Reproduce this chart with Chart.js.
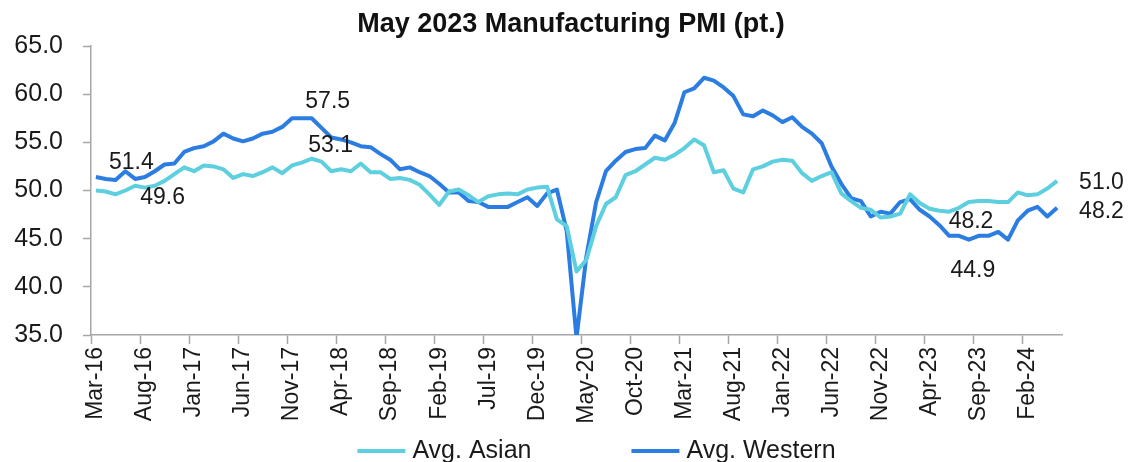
<!DOCTYPE html>
<html>
<head>
<meta charset="utf-8">
<script src="https://cdn.jsdelivr.net/npm/chart.js@4/dist/chart.umd.min.js"></script>
<style>
  html, body { margin: 0; padding: 0; background: #fff; overflow: hidden; }
  #wrap { width: 1132px; height: 462px; }
</style>
</head>
<body>
<div id="wrap"><canvas id="pmi"></canvas></div>
<script>
// months, Mar-16 .. May-24
const months = [
  'Mar-16','Apr-16','May-16','Jun-16','Jul-16','Aug-16','Sep-16','Oct-16','Nov-16','Dec-16',
  'Jan-17','Feb-17','Mar-17','Apr-17','May-17','Jun-17','Jul-17','Aug-17','Sep-17','Oct-17','Nov-17','Dec-17',
  'Jan-18','Feb-18','Mar-18','Apr-18','May-18','Jun-18','Jul-18','Aug-18','Sep-18','Oct-18','Nov-18','Dec-18',
  'Jan-19','Feb-19','Mar-19','Apr-19','May-19','Jun-19','Jul-19','Aug-19','Sep-19','Oct-19','Nov-19','Dec-19',
  'Jan-20','Feb-20','Mar-20','Apr-20','May-20','Jun-20','Jul-20','Aug-20','Sep-20','Oct-20','Nov-20','Dec-20',
  'Jan-21','Feb-21','Mar-21','Apr-21','May-21','Jun-21','Jul-21','Aug-21','Sep-21','Oct-21','Nov-21','Dec-21',
  'Jan-22','Feb-22','Mar-22','Apr-22','May-22','Jun-22','Jul-22','Aug-22','Sep-22','Oct-22','Nov-22','Dec-22',
  'Jan-23','Feb-23','Mar-23','Apr-23','May-23','Jun-23','Jul-23','Aug-23','Sep-23','Oct-23','Nov-23','Dec-23',
  'Jan-24','Feb-24','Mar-24','Apr-24','May-24'
];

const asian = [
  50.0, 49.9, 49.6, 50.0, 50.5, 50.3, 50.5, 51.0, 51.7, 52.4,
  52.0, 52.6, 52.5, 52.2, 51.3, 51.7, 51.5, 51.9, 52.4, 51.8,
  52.6, 52.9, 53.3, 53.0, 52.0, 52.2, 52.0, 52.8, 51.9, 51.9,
  51.2, 51.3, 51.1, 50.6, 49.6, 48.5, 49.9, 50.1, 49.5, 48.8,
  49.4, 49.6, 49.7, 49.6, 50.1, 50.3, 50.4, 47.0, 46.3, 41.6,
  42.8, 46.3, 48.6, 49.3, 51.6, 52.0, 52.7, 53.4, 53.2, 53.7,
  54.4, 55.3, 54.7, 51.9, 52.1, 50.2, 49.8, 52.2, 52.5, 53.0,
  53.2, 53.1, 51.8, 51.0, 51.5, 51.9, 49.7, 48.9, 48.2, 48.0,
  47.2, 47.3, 47.6, 49.6, 48.7, 48.1, 47.9, 47.8, 48.2, 48.8,
  48.9, 48.9, 48.8, 48.8, 49.8, 49.5, 49.6, 50.2, 51.0
];

const western = [
  51.4, 51.2, 51.1, 52.0, 51.2, 51.4, 52.0, 52.7, 52.8, 54.0,
  54.4, 54.6, 55.1, 55.9, 55.4, 55.1, 55.4, 55.9, 56.1, 56.6,
  57.5, 57.5, 57.5, 56.5, 55.5, 55.3, 55.0, 54.6, 54.5, 53.8,
  53.2, 52.2, 52.4, 51.9, 51.5, 50.7, 49.8, 49.8, 48.9, 48.8,
  48.3, 48.3, 48.3, 48.8, 49.3, 48.4, 49.7, 50.1, 45.8, 34.7,
  43.1, 48.8, 52.0, 53.1, 54.0, 54.3, 54.4, 55.7, 55.2, 57.0,
  60.2, 60.6, 61.7, 61.4, 60.7, 59.8, 57.9, 57.7, 58.3, 57.8,
  57.1, 57.6, 56.6, 55.9, 54.9, 52.5, 50.7, 49.2, 48.9, 47.3,
  47.8, 47.6, 48.8, 49.1, 48.0, 47.3, 46.4, 45.3, 45.3, 44.9,
  45.3, 45.3, 45.7, 44.9, 46.9, 47.9, 48.3, 47.3, 48.2
];

const seriesNames = ['Avg. Asian', 'Avg. Western'];
const yTicks = [35, 40, 45, 50, 55, 60, 65];

// value callouts written on the chart: which series, which month, what text
const calloutSeries = [1, 0, 1, 0, 0, 1, 0, 1];
const calloutIndex  = [3, 7, 22, 22, 88, 89, 98, 98];
const calloutText   = ['51.4', '49.6', '57.5', '53.1', '48.2', '44.9', '51.0', '48.2'];

const AXIS = '#a6a6a6';
const FONT = "'Liberation Sans', Arial, sans-serif";

const calloutPlugin = {
  id: 'callouts',
  afterDatasetsDraw(chart, args, opts) {
    const ctx = chart.ctx;
    ctx.save();
    ctx.font = opts.font;
    ctx.fillStyle = opts.color;
    ctx.textBaseline = 'middle';
    calloutText.forEach((t, k) => {
      const pt = chart.getDatasetMeta(calloutSeries[k]).data[calloutIndex[k]];
      const off = opts.offsets[k];
      ctx.textAlign = off[2];
      ctx.fillText(t, pt.x + off[0], pt.y + off[1]);
    });
    ctx.restore();
  }
};

// line-sample legend under the axis labels
const lineLegend = {
  id: 'lineLegend',
  afterDraw(chart, args, opts) {
    const ctx = chart.ctx;
    ctx.save();
    ctx.font = opts.font;
    ctx.textBaseline = 'middle';
    ctx.textAlign = 'left';
    const items = chart.data.datasets.map(ds => ({
      text: ds.label, color: ds.borderColor,
      w: opts.sample + opts.gap + ctx.measureText(ds.label).width
    }));
    const total = items.reduce((s, it) => s + it.w, 0) + opts.itemGap * (items.length - 1);
    const ca = chart.chartArea;
    let x = (ca.left + ca.right) / 2 + opts.shift - total / 2;
    const y = chart.height - opts.bottom;
    items.forEach(it => {
      ctx.strokeStyle = it.color;
      ctx.lineWidth = 4;
      ctx.beginPath();
      ctx.moveTo(x, y);
      ctx.lineTo(x + opts.sample, y);
      ctx.stroke();
      ctx.fillStyle = '#1a1a1a';
      ctx.fillText(it.text, x + opts.sample + opts.gap, y);
      x += it.w + opts.itemGap;
    });
    ctx.restore();
  }
};

new Chart(document.getElementById('pmi'), {
  type: 'line',
  data: {
    labels: months,
    datasets: [
      { label: seriesNames[0], data: asian, borderColor: '#5dcfdf', backgroundColor: '#5dcfdf' },
      { label: seriesNames[1], data: western, borderColor: '#2b7de1', backgroundColor: '#2b7de1' }
    ]
  },
  options: {
    responsive: true,
    maintainAspectRatio: false,
    animation: false,
    devicePixelRatio: 1,
    layout: { padding: { left: 10, right: 0, top: 0, bottom: 38 } },
    elements: {
      line: { borderWidth: 4, tension: 0, borderJoinStyle: 'round' },
      point: { radius: 0, hoverRadius: 0 }
    },
    scales: {
      x: {
        offset: true,
        afterFit: s => { s.height = 89; },
        grid: {
          offset: true,
          drawOnChartArea: false,
          tickLength: 9,
          tickWidth: 1.5,
          color: c => (c.index % 5 === 0 ? AXIS : 'rgba(0,0,0,0)')
        },
        border: { color: AXIS, width: 1.5 },
        ticks: {
          autoSkip: false,
          maxRotation: 90,
          minRotation: 90,
          padding: 3,
          color: '#1a1a1a',
          font: { family: FONT, size: 23 },
          callback: (v, i) => (i % 5 === 0 ? months[i] : '')
        }
      },
      y: {
        min: 35,
        max: 65,
        afterFit: s => { s.width = 81; },
        afterBuildTicks: s => { s.ticks = yTicks.map(v => ({ value: v })); },
        grid: { drawOnChartArea: false, tickLength: 8, tickWidth: 1.5, color: AXIS },
        border: { color: AXIS, width: 1.5 },
        ticks: {
          padding: 20,
          color: '#1a1a1a',
          font: { family: FONT, size: 25 },
          callback: v => v.toFixed(1)
        }
      },
      // empty right-hand strip that leaves room for the end-of-line values
      yRight: {
        position: 'right',
        afterFit: s => { s.width = 70; },
        grid: { display: false },
        border: { display: false },
        ticks: { display: false }
      }
    },
    plugins: {
      legend: { display: false },
      tooltip: { enabled: false },
      title: {
        display: true,
        text: 'May 2023 Manufacturing PMI (pt.)',
        color: '#111',
        font: { family: FONT, size: 27, weight: 'bold' },
        padding: { top: 8, bottom: 5.6 }
      },
      callouts: {
        font: "23px 'Liberation Sans', Arial, sans-serif",
        color: '#1a1a1a',
        offsets: [[6, -9, 'center'], [-2, 17, 'center'], [16, -17, 'center'], [19, -13, 'center'],
                  [12, 14, 'center'], [4, 31, 'center'], [22, 2, 'left'], [22, 4, 'left']]
      },
      lineLegend: { font: "25px 'Liberation Sans', Arial, sans-serif", sample: 48, gap: 7, itemGap: 100, shift: 20, bottom: 11 }
    }
  },
  plugins: [calloutPlugin, lineLegend]
});
</script>
</body>
</html>
